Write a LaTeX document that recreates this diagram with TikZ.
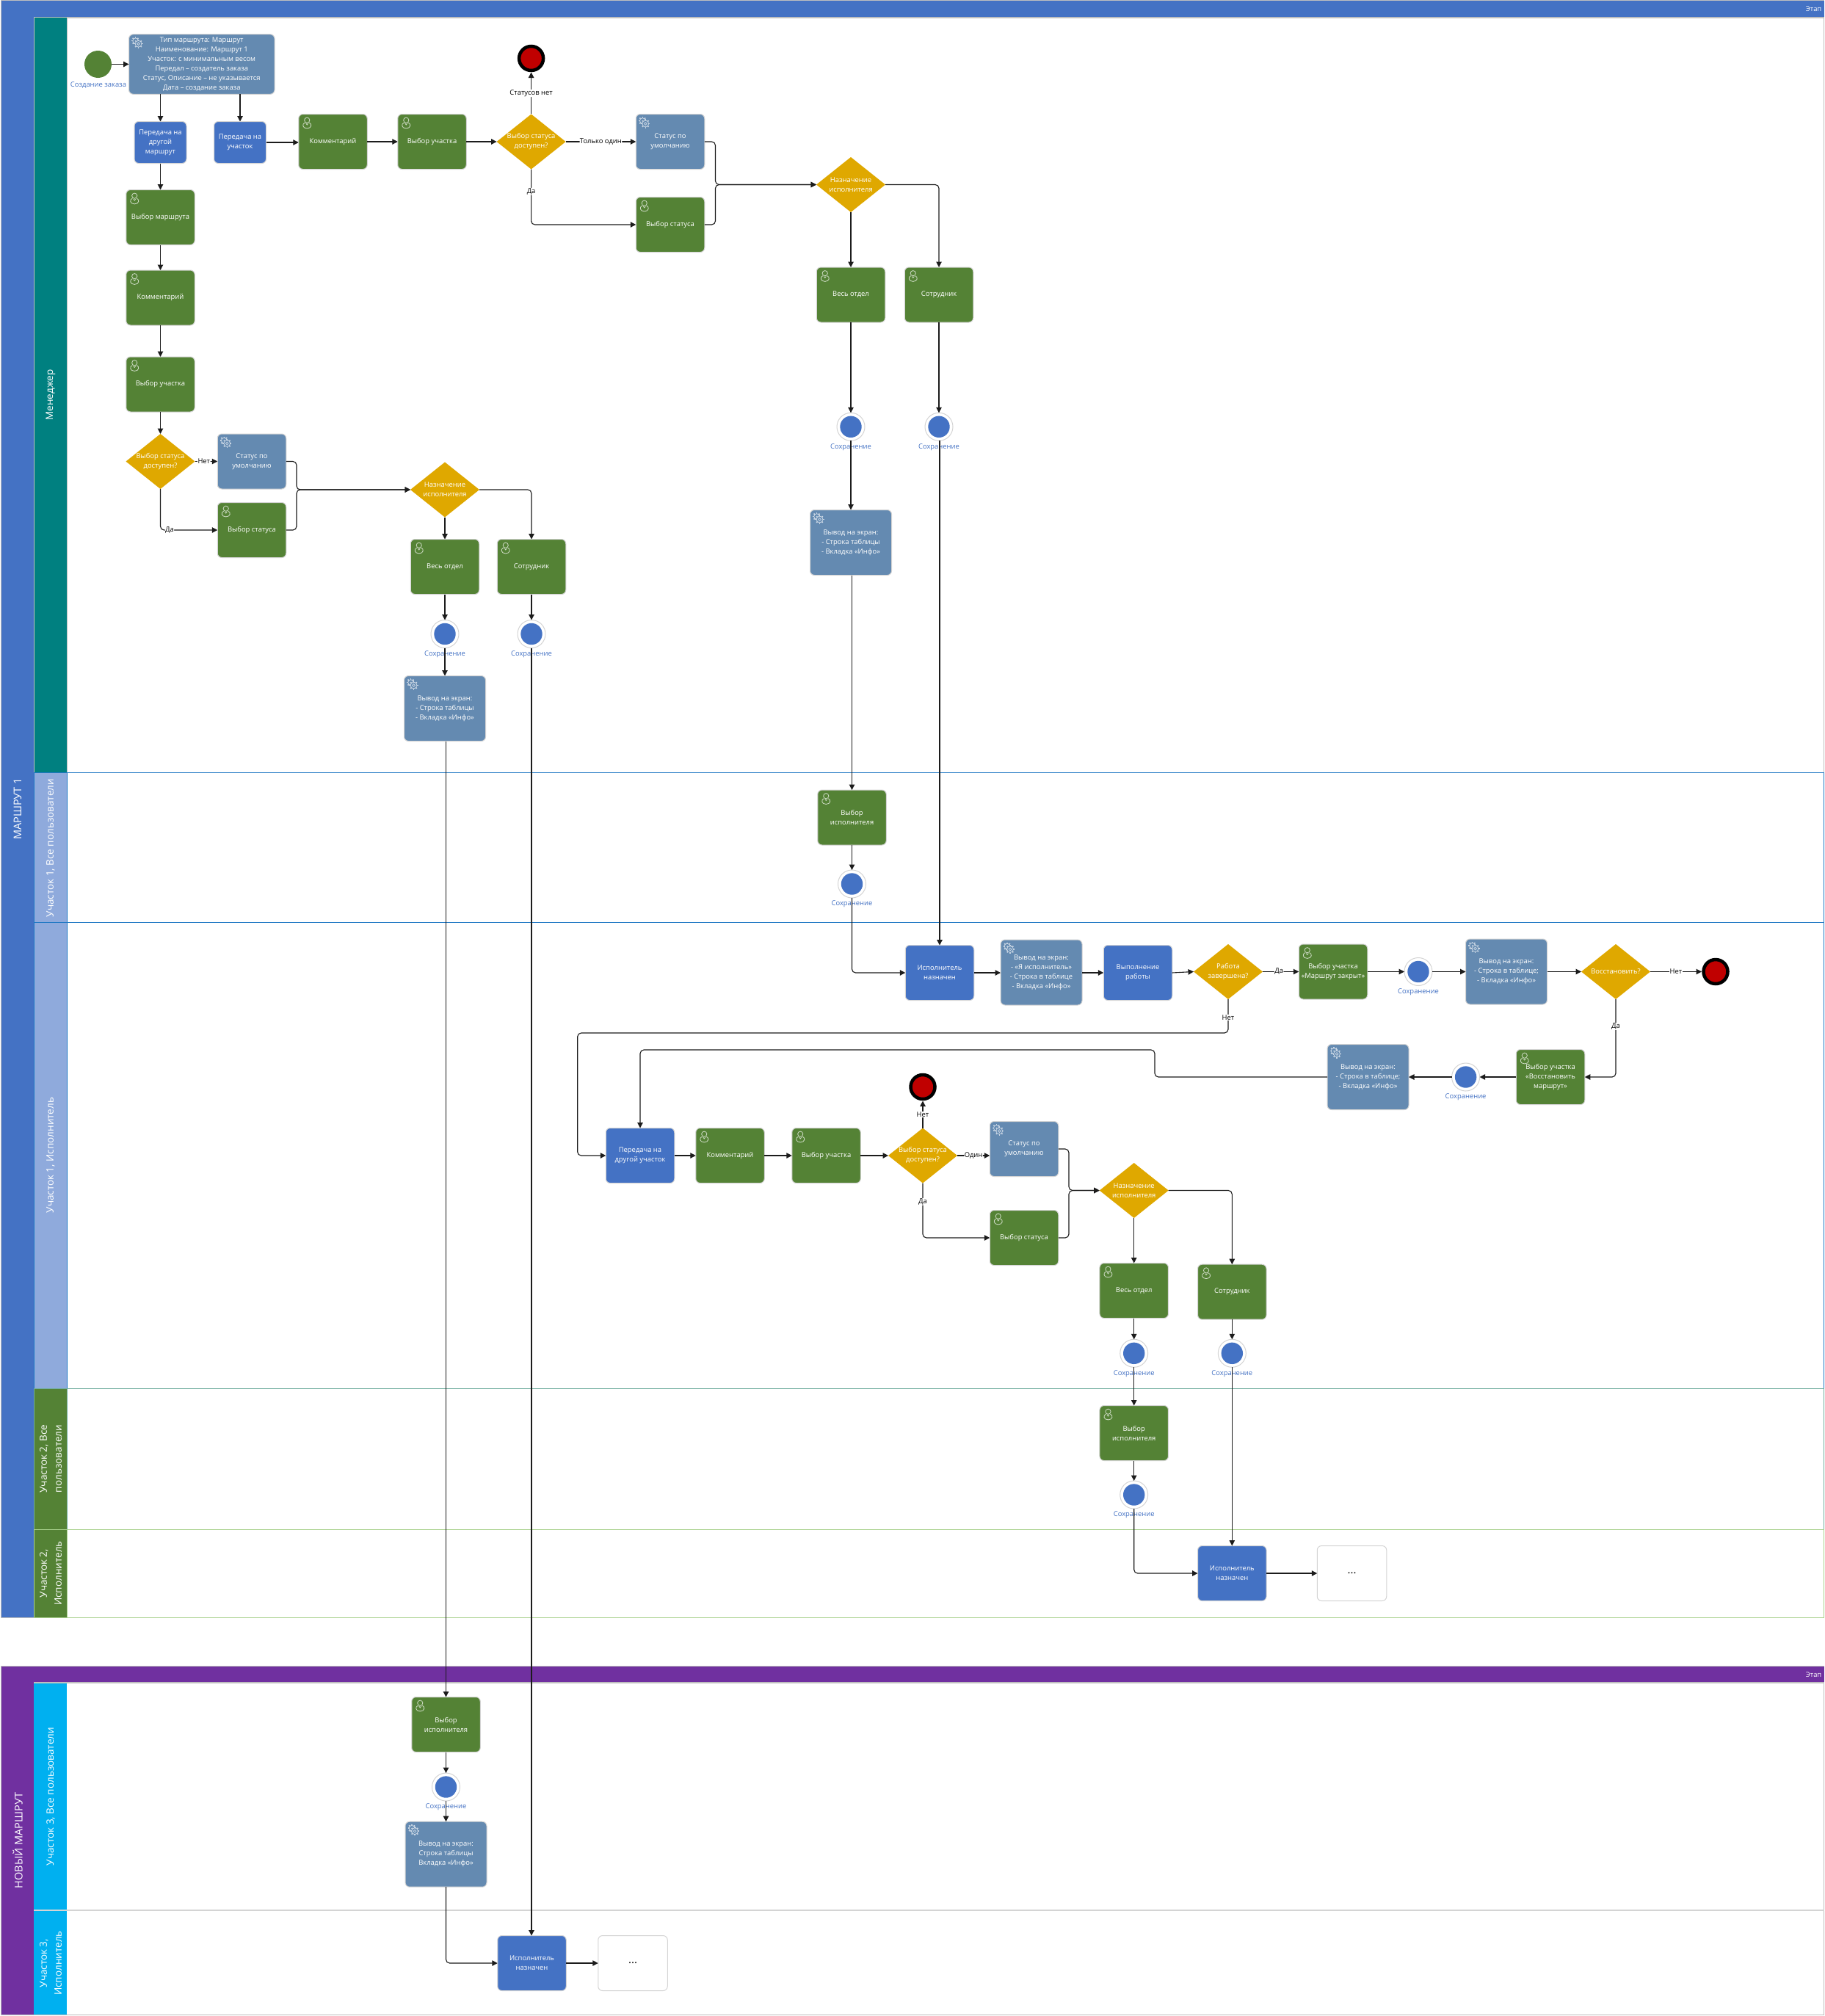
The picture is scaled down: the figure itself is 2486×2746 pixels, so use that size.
\documentclass[tikz,border=0pt]{standalone}
\usepackage{fontspec}
\setmainfont{Open Sans}
\usetikzlibrary{arrows.meta,shapes.geometric,calc}
\definecolor{cpool}{HTML}{4472C4}
\definecolor{cteal}{HTML}{008080}
\definecolor{clight}{HTML}{8FAADC}
\definecolor{cgreen}{HTML}{548235}
\definecolor{ccyan}{HTML}{00B0F0}
\definecolor{cpurple}{HTML}{7030A0}
\definecolor{cinfo}{HTML}{648AB1}
\definecolor{cgold}{HTML}{DFA800}
\definecolor{cred}{HTML}{C00000}
\definecolor{cbord}{HTML}{D4D4D4}
\definecolor{cline}{HTML}{1C1C1C}
\definecolor{clane}{HTML}{BFBFBF}
\definecolor{lblue}{HTML}{1F78C4}
\definecolor{lteal}{HTML}{70AD9E}
\definecolor{lgreen}{HTML}{A9D18E}
\tikzset{
  txt/.style={font=\fontsize{9.4}{13}\selectfont,align=center},
  lowered/.style={execute at begin node={\vspace*{3pt}}},
  boxbase/.style={rectangle,rounded corners=6,inner sep=0,outer sep=0,draw=cbord,line width=1,text=white,txt,lowered},
  greenbox/.style={boxbase,fill=cgreen,minimum width=93.5,minimum height=75},
  bluebox/.style={boxbase,fill=cpool,minimum width=93.5,minimum height=75},
  infobox/.style={boxbase,fill=cinfo,minimum width=111,minimum height=89},
  emptybox/.style={boxbase,fill=white,text=black,minimum width=94.5,minimum height=75,font=\fontsize{15}{15}\selectfont},
  gatebox/.style={diamond,shape aspect=1.25,minimum width=94,minimum height=75,inner sep=0,outer sep=0,fill=cgold},
  gatetxt/.style={txt,text=white,inner sep=0,lowered},
  ring/.style={circle,minimum size=38,inner sep=0,outer sep=0,draw=cbord,line width=1,fill=white},
  savetxt/.style={txt,text=cpool,inner sep=0},
  endc/.style={circle,minimum size=33,inner sep=0,outer sep=2.5,draw=black,line width=4.5,fill=cred},
  startc/.style={circle,minimum size=37,inner sep=0,outer sep=0,fill=cgreen},
  conn/.style={draw=cline,line width=1.1,rounded corners=5,-{Triangle[length=7.5pt,width=7.5pt]}},
  lbl/.style={txt,text=black,fill=white,inner sep=0.6},
  lanetxt/.style={rotate=90,text=white,font=\fontsize{13.5}{20}\selectfont,align=center,inner sep=0},
  pooltxt/.style={rotate=90,text=white,font=\fontsize{14.5}{20}\selectfont,align=center,inner sep=0},
  stagetxt/.style={text=white,font=\fontsize{9.4}{11}\selectfont,inner sep=0,anchor=east},
  usericon/.style={draw=white!72!cgreen,line width=0.8},
  gearicon/.style={draw=white!65!cinfo,line width=0.8}
}
\newcommand{\usr}[1]{\begin{scope}[shift={(#1.north west)}]
  \draw[usericon] (11.5,8.2) circle (3.6);
  \draw[usericon] (8.6,11.6) .. controls (4.5,13) and (5,19.4) .. (11.5,19.4) .. controls (18,19.4) and (18.5,13) .. (14.4,11.6);
  \draw[usericon] (10,12.5) -- (11.5,14.5) -- (13,12.5);
\end{scope}}
\newcommand{\gearat}[3]{\foreach \a in {0,45,...,315}{\draw[gearicon,line width=1.5] ($(#1,#2)+(\a:#3)$) -- ($(#1,#2)+(\a:#3+1.7)$);}
  \draw[gearicon,fill=cinfo] (#1,#2) circle (#3);}
\newcommand{\gr}[1]{\begin{scope}[shift={(#1.north west)}]
  \gearat{9}{9}{3.8}\gearat{13}{13}{4.4}
  \draw[gearicon] (13,13) circle (1.9);
\end{scope}}
\newcommand{\green}[4]{\node[greenbox] (#1) at (#2,#3) {#4}; \usr{#1}}
\newcommand{\info}[4]{\node[infobox] (#1) at (#2,#3) {#4}; \gr{#1}}
\newcommand{\statusbox}[3]{\node[infobox,minimum width=93.5,minimum height=75] (#1) at (#2,#3) {Статус по\\умолчанию}; \gr{#1}}
\newcommand{\gate}[4]{\node[gatebox] (#1) at (#2,#3) {}; \node[gatetxt] (#1t) at (#2,#3) {#4};}
\newcommand{\save}[3]{\node[ring] (#1) at (#2,#3) {}; \fill[cpool] (#1.center) circle (14.7); \node[savetxt] (#1t) at (#2,#3+27.6) {Сохранение};}
\newcommand{\swim}[4]{\fill[#4] (46,#1) rectangle (91,#2); \draw[#3,line width=1] (46,#1) rectangle (91,#2); \draw[#3,line width=1] (91,#1) -- (2484.5,#1) -- (2484.5,#2) -- (91,#2);}
\begin{document}
\begin{tikzpicture}[x=1pt,y=-1pt]
\useasboundingbox (0,0) rectangle (2486,2746);
\fill[white] (0,0) rectangle (2486,2746);
% ---- pool 1
\fill[cpool] (1,1) rectangle (46,2203);
\draw[clane,line width=1] (1,1) rectangle (2484.5,2203);
\fill[cpool] (46,1) rectangle (2484.5,24);
\draw[clane,line width=1.4] (46,24) -- (2484.5,24);
\swim{24}{1052}{clane}{cteal}
\swim{1052}{1256}{lblue}{clight}
\swim{1256}{1891.5}{lblue}{clight}
\swim{1891.5}{2083}{lteal}{cgreen}
\swim{2083}{2203}{lgreen}{cgreen}
\node[pooltxt] (p1) at (24,1102) {МАРШРУТ 1};
\node[stagetxt] (s1) at (2481.5,12.5) {Этап};
\node[lanetxt] (l1) at (69,538) {Менеджер};
\node[lanetxt] (l2) at (69,1155) {Участок 1, Все пользователи};
\node[lanetxt] (l3) at (69,1573.5) {Участок 1, Исполнитель};
\node[lanetxt] (l4) at (69,1987) {Участок 2, Все\\пользователи};
\node[lanetxt] (l5) at (69,2143) {Участок 2,\\Исполнитель};
% ---- pool 2
\fill[cpurple] (1,2269.5) rectangle (46,2744.5);
\draw[clane,line width=1] (1,2269.5) rectangle (2484.5,2744.5);
\fill[cpurple] (46,2269.5) rectangle (2484.5,2292);
\draw[clane,line width=1.4] (46,2292) -- (2484.5,2292);
\fill[ccyan] (46,2292.7) rectangle (91,2744);
\draw[cbord,line width=2] (46,2601.5) -- (2484.5,2601.5);
\node[pooltxt] (p2) at (24,2507) {НОВЫЙ МАРШРУТ};
\node[stagetxt] (s2) at (2481.5,2281) {Этап};
\node[lanetxt] (l6) at (69,2447) {Участок 3, Все пользователи};
\node[lanetxt] (l7) at (69,2674) {Участок 3,\\Исполнитель};
% ---- manager left branch
\node[startc] (start) at (133.5,87.5) {};
\node[savetxt] (startt) at (134,116) {Создание заказа};
\node[infobox,minimum width=198.5,minimum height=81.6] (inf) at (274.8,87.5) {Тип маршрута: Маршрут\\Наименование: Маршрут 1\\Участок: с минимальным весом\\Передал – создатель заказа\\Статус, Описание – не указывается\\Дата – создание заказа}; \gr{inf}
\node[bluebox,minimum width=71,minimum height=57] (pa) at (218.5,194) {Передача на\\другой\\маршрут};
\node[bluebox,minimum width=71,minimum height=57] (pb) at (327,194) {Передача на\\участок};
\green{c1}{453.5}{193}{Комментарий}
\green{u1}{588.5}{193}{Выбор участка}
\green{rt}{218.5}{296}{Выбор маршрута}
\green{c2}{218.5}{405.5}{Комментарий}
\green{u2}{218.5}{523.5}{Выбор участка}
\gate{g2}{218.5}{628.5}{Выбор статуса\\доступен?}
\statusbox{st2}{343}{628.5}
\green{vs2}{343}{722}{Выбор статуса}
\gate{n2}{606}{667}{Назначение\\исполнителя}
\green{ad2}{606}{772}{Весь отдел}
\green{em2}{724}{772}{Сотрудник}
\save{sa2}{606}{863.5}
\save{sb2}{724}{863.5}
\info{o2}{606}{965}{Вывод на экран:\\- Строка таблицы\\- Вкладка «Инфо»}
% ---- manager right branch
\node[endc] (e1) at (723.6,79.5) {};
\gate{g1}{723.6}{193}{Выбор статуса\\доступен?}
\statusbox{st1}{913}{193}
\green{vs1}{913}{306}{Выбор статуса}
\gate{n1}{1159}{251.5}{Назначение\\исполнителя}
\green{ad1}{1159}{401.5}{Весь отдел}
\green{em1}{1279}{401.5}{Сотрудник}
\save{sa1}{1159}{581.3}
\save{sb1}{1279}{581.3}
\info{o1}{1159}{739}{Вывод на экран:\\- Строка таблицы\\- Вкладка «Инфо»}
% ---- lane 1
\green{x1}{1160.5}{1113.5}{Выбор\\исполнителя}
\save{sx1}{1160.5}{1204}
% ---- lane executor
\node[bluebox] (ex1) at (1280,1325) {Исполнитель\\назначен};
\info{o3}{1418.5}{1324.5}{Вывод на экран:\\- «Я исполнитель»\\- Строка в таблице\\- Вкладка «Инфо»}
\node[bluebox] (wk) at (1550,1325) {Выполнение\\работы};
\gate{gw}{1673}{1323.5}{Работа\\завершена?}
\green{cl}{1816}{1323.5}{Выбор участка\\«Маршрут закрыт»}
\save{sc}{1932}{1323.5}
\info{o4}{2052}{1323.5}{Вывод на экран:\\- Строка в таблице;\\- Вкладка «Инфо»}
\gate{gr}{2201}{1323.5}{Восстановить?}
\node[endc] (e2) at (2337,1323.5) {};
\green{rs}{2112}{1467}{Выбор участка\\«Восстановить\\маршрут»}
\save{sr}{1996.6}{1467}
\info{o5}{1863.5}{1467}{Вывод на экран:\\- Строка в таблице;\\- Вкладка «Инфо»}
\node[bluebox] (pc) at (872,1574) {Передача на\\другой участок};
\green{c3}{994.5}{1574}{Комментарий}
\green{u3}{1125.5}{1574}{Выбор участка}
\gate{g3}{1257}{1574}{Выбор статуса\\доступен?}
\node[endc] (e3) at (1257,1480.5) {};
\statusbox{st3}{1395}{1565}
\green{vs3}{1395}{1686}{Выбор статуса}
\gate{n3}{1544.7}{1621.5}{Назначение\\исполнителя}
\green{ad3}{1544.7}{1758}{Весь отдел}
\green{em3}{1678.3}{1759.7}{Сотрудник}
\save{sa3}{1544.7}{1843.3}
\save{sb3}{1678.3}{1843.3}
% ---- lane 2
\green{x2}{1544.7}{1952}{Выбор\\исполнителя}
\save{sx2}{1544.7}{2036}
\node[bluebox] (ex2) at (1678.3,2143) {Исполнитель\\назначен};
\node[emptybox] (dots1) at (1841.5,2143) {...};
% ---- pool 2 nodes
\green{x3}{607.5}{2349}{Выбор\\исполнителя}
\save{sx3}{607.5}{2434}
\info{o6}{607.5}{2525.7}{Вывод на экран:\\Строка таблицы\\Вкладка «Инфо»}
\node[bluebox] (ex3) at (724.5,2674) {Исполнитель\\назначен};
\node[emptybox] (dots2) at (862,2674) {...};
% ---- merge points
\coordinate (m1) at (974.5,251.5);
\coordinate (m2) at (404,667);
\coordinate (m3) at (1456,1621.5);
\coordinate (loopa) at (786.7,1407);
\coordinate (loopb) at (1573,1430);
% ---- connectors
\draw[conn] (start) -- (inf);
\draw[conn] (inf.south -| pa.north) -- (pa.north);
\draw[conn] (inf.south -| pb.north) -- (pb.north);
\draw[conn] (pa) -- (rt);
\draw[conn] (pb.east) -- (pb.east -| c1.west);
\draw[conn] (c1) -- (u1);
\draw[conn] (u1) -- (g1);
\draw[conn] (rt) -- (c2);
\draw[conn] (c2) -- (u2);
\draw[conn] (u2) -- (g2);
\draw[conn] (g2) -- node[lbl,pos=.4] (tn2) {Нет} (st2);
\draw[conn] (g2.south) |- node[lbl,pos=.58] (ty2) {Да} (vs2.west);
\draw[conn] (st2.east) -| (m2) -- (n2.west);
\draw[conn] (vs2.east) -| (m2) -- (n2.west);
\draw[conn] (n2) -- (ad2);
\draw[conn] (n2.east) -| (em2.north);
\draw[conn] (ad2) -- (sa2);
\draw[conn] (em2) -- (sb2);
\draw[conn] (sa2) -- (o2);
\draw[conn] (g1) -- node[lbl,pos=.5] (tn1) {Статусов нет} (e1);
\draw[conn] (g1) -- node[lbl,pos=.5] (to1) {Только один} (st1);
\draw[conn] (g1.south) |- node[lbl,pos=.2] (ty1) {Да} (vs1.west);
\draw[conn] (st1.east) -| (m1) -- (n1.west);
\draw[conn] (vs1.east) -| (m1) -- (n1.west);
\draw[conn] (n1) -- (ad1);
\draw[conn] (n1.east) -| (em1.north);
\draw[conn] (ad1) -- (sa1);
\draw[conn] (em1) -- (sb1);
\draw[conn] (sa1) -- (o1);
\draw[conn] (o1.south -| x1.north) -- (x1.north);
\draw[conn] (x1) -- (sx1);
\draw[conn] (sx1.south) |- (ex1.west);
\draw[conn] (sb1.south -| ex1.north) -- (ex1.north);
\draw[conn] (ex1) -- (o3.west |- ex1);
\draw[conn] (o3.east |- wk) -- (wk);
\draw[conn] (wk.east) -- (gw.west);
\draw[conn] (gw) -- node[lbl,pos=.45] (ty3) {Да} (cl);
\draw[conn] (cl) -- (sc);
\draw[conn] (sc) -- (o4);
\draw[conn] (o4) -- (gr);
\draw[conn] (gr) -- node[lbl,pos=.5] (tn3) {Нет} (e2);
\draw[conn] (gr.south) |- node[lbl,pos=.175] (ty4) {Да} (rs.east);
\draw[conn] (rs) -- (sr);
\draw[conn] (sr) -- (o5);
\draw[conn] (o5.west) -| (loopb) -| (pc.north);
\draw[conn] (gw.south) |- node[lbl,pos=.27] (tn4) {Нет} (loopa) |- (pc.west);
\draw[conn] (pc) -- (c3);
\draw[conn] (c3) -- (u3);
\draw[conn] (u3) -- (g3);
\draw[conn] (g3) -- node[lbl,pos=.5] (tn5) {Нет} (e3);
\draw[conn] (g3.east) -- node[lbl,pos=.5] (to5) {Один} (g3.east -| st3.west);
\draw[conn] (g3.south) |- node[lbl,pos=.17] (ty5) {Да} (vs3.west);
\draw[conn] (st3.east) -| (m3) -- (n3.west);
\draw[conn] (vs3.east) -| (m3) -- (n3.west);
\draw[conn] (n3) -- (ad3);
\draw[conn] (n3.east) -| (em3.north);
\draw[conn] (ad3) -- (sa3);
\draw[conn] (em3) -- (sb3);
\draw[conn] (sa3) -- (x2);
\draw[conn] (x2) -- (sx2);
\draw[conn] (sx2.south) |- (ex2.west);
\draw[conn] (sb3) -- (ex2);
\draw[conn] (ex2) -- (dots1);
\draw[conn] (o2.south -| x3.north) -- (x3.north);
\draw[conn] (sb2.south) -- (sb2.south |- ex3.north);
\draw[conn] (x3) -- (sx3);
\draw[conn] (sx3) -- (o6);
\draw[conn] (o6.south) |- (ex3.west);
\draw[conn] (ex3) -- (dots2);
\end{tikzpicture}
\end{document}
